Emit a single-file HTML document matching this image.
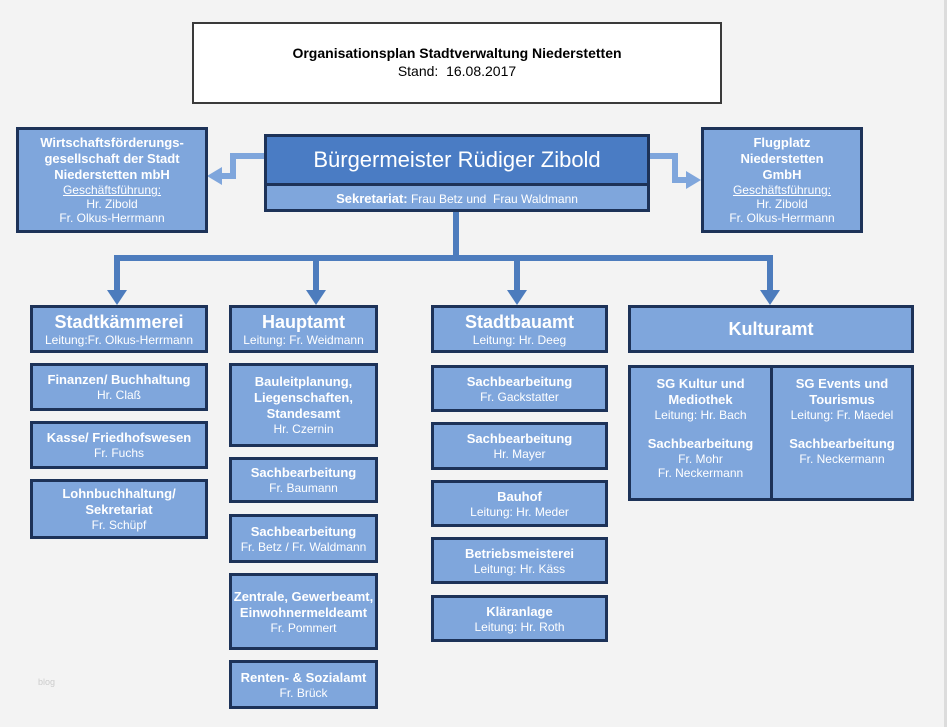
<!DOCTYPE html>
<html><head><meta charset="utf-8"><style>
body{margin:0;width:947px;height:727px;background:#f3f3f3;position:relative;overflow:hidden;font-family:"Liberation Sans",Arial,sans-serif;}
.b{position:absolute;box-sizing:border-box;background:#7fa6dc;border:3px solid #1d3258;color:#fff;text-align:center;font-size:12px;line-height:14px;display:flex;flex-direction:column;justify-content:center;}
.t{font-weight:bold;font-size:13px;line-height:16px}
.h{font-weight:bold;font-size:18px;line-height:21px}
u{text-decoration:underline}
</style></head><body>
<div style="position:absolute;right:0;top:0;width:3px;height:727px;background:#dcdcdc"></div>
<div style="position:absolute;left:192px;top:22px;width:530px;height:82px;box-sizing:border-box;border:2px solid #3a3a3a;background:#fff;text-align:center;font-size:14px;line-height:18px;padding-top:20px;color:#000"><b>Organisationsplan Stadtverwaltung Niederstetten</b><br>Stand:&nbsp; 16.08.2017</div>
<svg style="position:absolute;left:0;top:0" width="947" height="727">
<g fill="none" stroke="#7fa6dc" stroke-width="6">
<polyline points="264,156 233,156 233,176 220,176"/>
<polyline points="650,156 675,156 675,180 688,180"/>
</g>
<polygon points="207,176 222,167 222,185" fill="#7fa6dc"/>
<polygon points="701,180 686,171 686,189" fill="#7fa6dc"/>
<g fill="none" stroke="#4d7cbd" stroke-width="6">
<polyline points="456,211 456,258"/>
<polyline points="117,292 117,258 770,258 770,292"/>
<line x1="316" y1="258" x2="316" y2="292"/>
<line x1="517" y1="258" x2="517" y2="292"/>
</g>
<g fill="#4d7cbd">
<polygon points="107,290 127,290 117,305"/>
<polygon points="306,290 326,290 316,305"/>
<polygon points="507,290 527,290 517,305"/>
<polygon points="760,290 780,290 770,305"/>
</g>
</svg>
<div class="b" style="left:264px;top:134px;width:386px;height:78px;background:#7fa6dc;justify-content:flex-start">
<div style="background:#4a7cc4;height:46px;border-bottom:3px solid #1d3258;font-size:22px;line-height:46px">Bürgermeister Rüdiger Zibold</div>
<div style="line-height:26px;font-size:12px"><b style="font-size:13px">Sekretariat:</b> Frau Betz und&nbsp; Frau Waldmann</div></div>
<div class="b" style="left:16px;top:127px;width:192px;height:106px"><span class="t">Wirtschaftsförderungs-<br>gesellschaft der Stadt<br>Niederstetten mbH</span><u>Geschäftsführung:</u>Hr. Zibold<br>Fr. Olkus-Herrmann</div>
<div class="b" style="left:701px;top:127px;width:162px;height:106px"><span class="t">Flugplatz<br>Niederstetten<br>GmbH</span><u>Geschäftsführung:</u>Hr. Zibold<br>Fr. Olkus-Herrmann</div>

<div class="b" style="left:30px;top:305px;width:178px;height:48px"><span class="h">Stadtkämmerei</span>Leitung:Fr. Olkus-Herrmann</div>
<div class="b" style="left:229px;top:305px;width:149px;height:48px"><span class="h">Hauptamt</span>Leitung: Fr. Weidmann</div>
<div class="b" style="left:431px;top:305px;width:177px;height:48px"><span class="h">Stadtbauamt</span>Leitung: Hr. Deeg</div>
<div class="b" style="left:628px;top:305px;width:286px;height:48px"><span class="h">Kulturamt</span></div>

<div class="b" style="left:30px;top:363px;width:178px;height:48px"><span class="t">Finanzen/ Buchhaltung</span>Hr. Claß</div>
<div class="b" style="left:30px;top:421px;width:178px;height:48px"><span class="t">Kasse/ Friedhofswesen</span>Fr. Fuchs</div>
<div class="b" style="left:30px;top:479px;width:178px;height:60px"><span class="t">Lohnbuchhaltung/<br>Sekretariat</span>Fr. Schüpf</div>

<div class="b" style="left:229px;top:363px;width:149px;height:84px"><span class="t">Bauleitplanung,<br>Liegenschaften,<br>Standesamt</span>Hr. Czernin</div>
<div class="b" style="left:229px;top:457px;width:149px;height:46px"><span class="t">Sachbearbeitung</span>Fr. Baumann</div>
<div class="b" style="left:229px;top:514px;width:149px;height:49px"><span class="t">Sachbearbeitung</span>Fr. Betz / Fr. Waldmann</div>
<div class="b" style="left:229px;top:573px;width:149px;height:77px"><span class="t">Zentrale, Gewerbeamt,<br>Einwohnermeldeamt</span>Fr. Pommert</div>
<div class="b" style="left:229px;top:660px;width:149px;height:49px"><span class="t">Renten- &amp; Sozialamt</span>Fr. Brück</div>

<div class="b" style="left:431px;top:365px;width:177px;height:47px"><span class="t">Sachbearbeitung</span>Fr. Gackstatter</div>
<div class="b" style="left:431px;top:422px;width:177px;height:48px"><span class="t">Sachbearbeitung</span>Hr. Mayer</div>
<div class="b" style="left:431px;top:480px;width:177px;height:47px"><span class="t">Bauhof</span>Leitung: Hr. Meder</div>
<div class="b" style="left:431px;top:537px;width:177px;height:47px"><span class="t">Betriebsmeisterei</span>Leitung: Hr. Käss</div>
<div class="b" style="left:431px;top:595px;width:177px;height:47px"><span class="t">Kläranlage</span>Leitung: Hr. Roth</div>

<div class="b" style="left:628px;top:365px;width:145px;height:136px;justify-content:flex-start;padding-top:8px"><span class="t">SG Kultur und<br>Mediothek</span>Leitung: Hr. Bach<br><br><span class="t">Sachbearbeitung</span>Fr. Mohr<br>Fr. Neckermann</div>
<div class="b" style="left:770px;top:365px;width:144px;height:136px;justify-content:flex-start;padding-top:8px"><span class="t">SG Events und<br>Tourismus</span>Leitung: Fr. Maedel<br><br><span class="t">Sachbearbeitung</span>Fr. Neckermann</div>
<div style="position:absolute;left:38px;top:677px;font-size:9px;color:#ccc">blog</div>
</body></html>
